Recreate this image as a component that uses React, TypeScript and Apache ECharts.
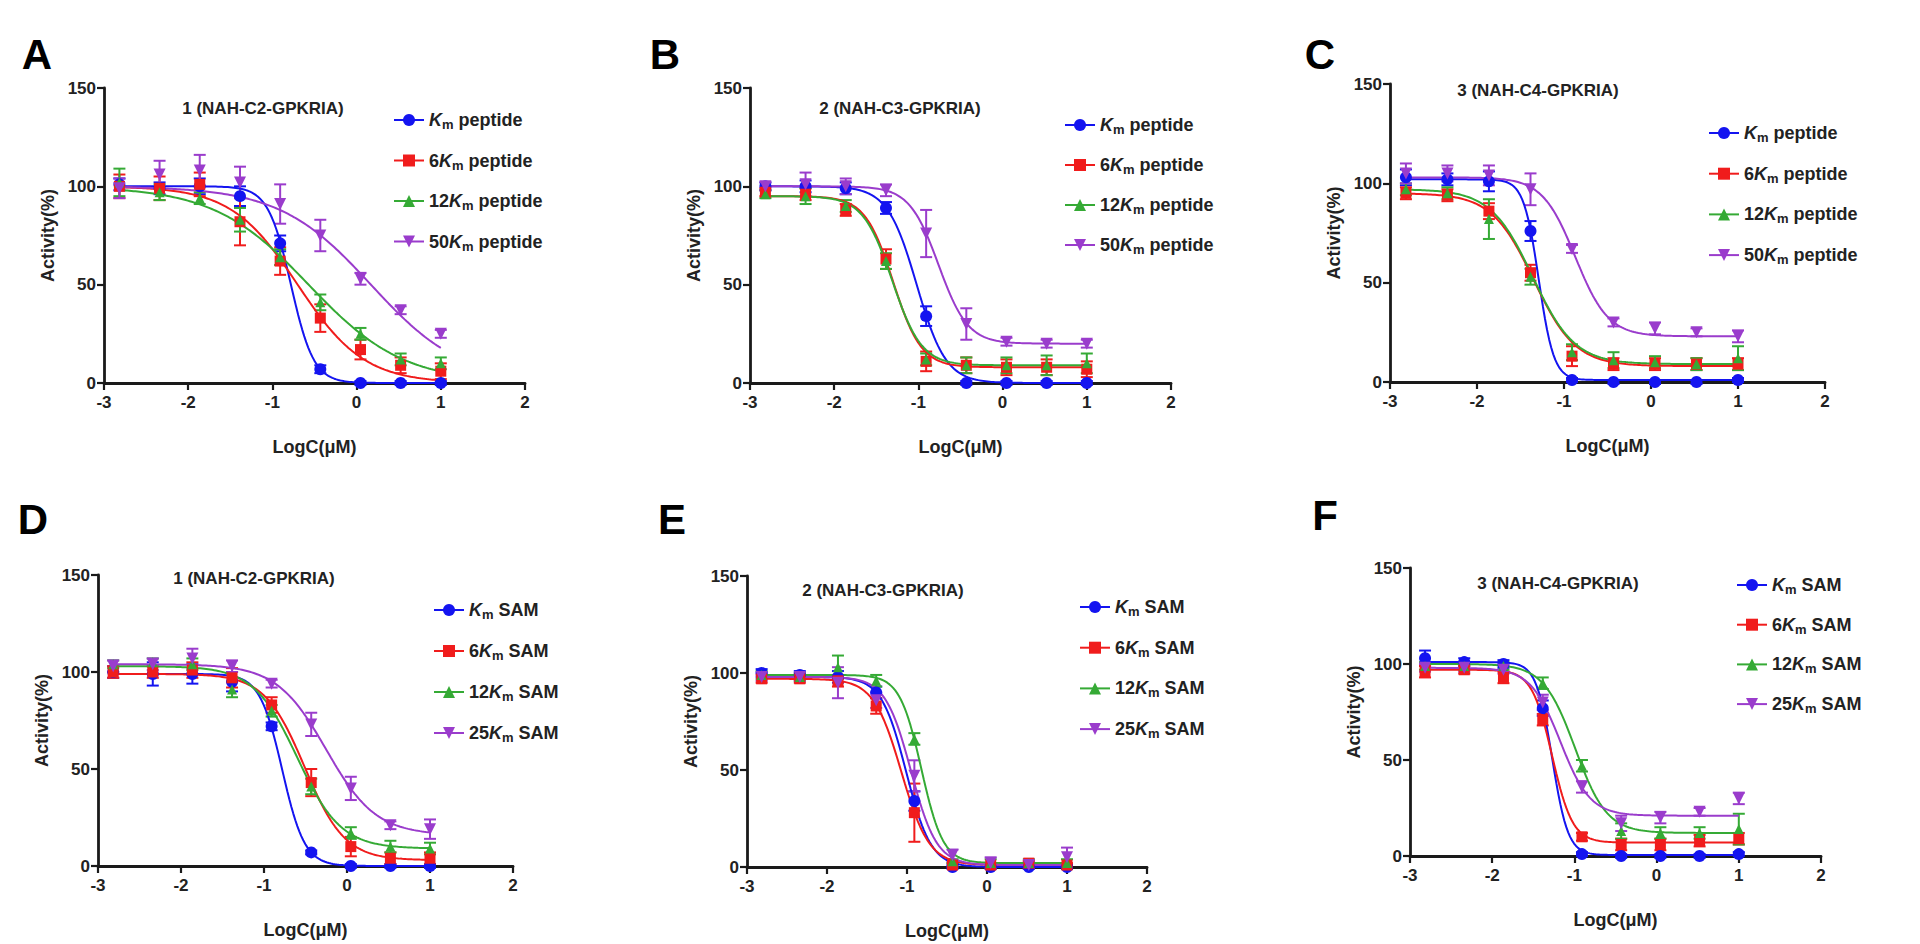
import React, { useEffect, useRef } from "react";
import * as echarts from "echarts";

// ---------- data ----------
const logConc = [-2.817, -2.34, -1.863, -1.385, -0.908, -0.431, 0.046, 0.523, 1.0];
const panelLetters = ["A", "B", "C", "D", "E", "F"];
const panelTitles = [
  "1 (NAH-C2-GPKRIA)",
  "2 (NAH-C3-GPKRIA)",
  "3 (NAH-C4-GPKRIA)",
  "1 (NAH-C2-GPKRIA)",
  "2 (NAH-C3-GPKRIA)",
  "3 (NAH-C4-GPKRIA)",
];
const peptideMultipliers = ["", "6", "12", "50"];
const samMultipliers = ["", "6", "12", "25"];
const xAxisTitle = "LogC(μM)";
const yAxisTitle = "Activity(%)";

// mean activity (%) per series: Km, 6Km, 12Km, 50Km/25Km
const panelA_mean = [
  [101, 99, 100, 95, 71, 7, 0, 0, 0],
  [100, 99, 101, 82, 62, 33, 17, 9, 6],
  [102, 97, 94, 83, 64, 41, 25, 12, 10],
  [99, 106, 108, 102, 91, 75, 53, 37, 25],
];
const panelA_sd = [
  [3, 3, 4, 5, 4, 2, 1, 1, 1],
  [6, 6, 6, 12, 7, 7, 5, 4, 4],
  [7, 4, 3, 6, 4, 4, 3, 3, 3],
  [5, 7, 8, 8, 10, 8, 3, 2, 2],
];
// fit parameters: [top, bottom, logIC50, hill]
const panelA_fit = [
  [100, 0, -0.78, 3.2],
  [100, 0, -0.7, 1.1],
  [100, 0, -0.57, 0.77],
  [100, 0, 0.17, 0.8],
];

const panelB_mean = [
  [100, 100, 99, 89, 34, 0, 0, 0, 0],
  [97, 96, 88, 63, 11, 9, 8, 8, 7],
  [96, 95, 90, 62, 12, 9, 9, 9, 10],
  [100, 101, 100, 98, 76, 30, 21, 20, 20],
];
const panelB_sd = [
  [2, 3, 3, 3, 5, 1, 1, 1, 1],
  [2, 3, 3, 5, 5, 4, 4, 4, 4],
  [2, 4, 3, 4, 3, 4, 4, 5, 5],
  [2, 6, 4, 3, 12, 8, 2, 2, 2],
];
const panelB_fit = [
  [100, 0, -1.02, 2.5],
  [95, 8, -1.3, 2.6],
  [95, 9, -1.31, 2.5],
  [100, 20, -0.76, 2.5],
];

const panelC_mean = [
  [103, 102, 101, 76, 1, 0, 0, 0, 1],
  [95, 94, 86, 55, 13, 9, 9, 9, 9],
  [97, 95, 82, 53, 15, 11, 10, 9, 12],
  [105, 105, 104, 97, 67, 30, 27, 25, 23],
];
const panelC_sd = [
  [4, 3, 5, 5, 1, 1, 1, 1, 1],
  [3, 3, 4, 4, 5, 3, 3, 3, 3],
  [3, 3, 10, 4, 4, 4, 3, 3, 6],
  [5, 4, 5, 8, 2, 2, 3, 2, 3],
];
const panelC_fit = [
  [102, 1, -1.29, 5],
  [95, 8, -1.35, 1.8],
  [97, 9, -1.36, 1.8],
  [103, 23, -0.87, 2.3],
];

const panelD_mean = [
  [100, 99, 99, 95, 72, 7, 0, 0, 0],
  [100, 100, 101, 97, 83, 43, 10, 4, 4],
  [104, 105, 104, 91, 80, 41, 17, 10, 9],
  [103, 104, 107, 103, 94, 73, 40, 21, 19],
];
const panelD_sd = [
  [3, 6, 5, 5, 2, 1, 1, 1, 1],
  [3, 3, 4, 5, 4, 7, 5, 3, 3],
  [2, 2, 3, 4, 3, 4, 3, 3, 3],
  [3, 3, 5, 3, 2, 6, 6, 2, 5],
];
const panelD_fit = [
  [99, 0, -0.78, 3.2],
  [99, 3, -0.51, 1.8],
  [103, 9, -0.6, 1.65],
  [104, 16, -0.25, 1.45],
];

const panelE_mean = [
  [100, 99, 98, 90, 34, 0, 0, 0, 0],
  [97, 97, 96, 83, 28, 1, 1, 2, 1],
  [99, 98, 103, 96, 66, 3, 2, 2, 2],
  [98, 98, 95, 86, 47, 6, 2, 1, 5],
];
const panelE_sd = [
  [2, 2, 3, 3, 5, 1, 1, 1, 1],
  [2, 2, 3, 4, 15, 1, 1, 1, 1],
  [2, 2, 6, 3, 3, 1, 2, 2, 2],
  [2, 2, 8, 4, 8, 3, 3, 2, 5],
];
const panelE_fit = [
  [98, 0, -1.01, 2.8],
  [97, 1, -1.07, 2.5],
  [99, 2, -0.82, 3.2],
  [98, 1, -0.95, 2.7],
];

const panelF_mean = [
  [103, 101, 100, 77, 1, 0, 0, 0, 1],
  [96, 97, 93, 71, 10, 6, 6, 8, 9],
  [99, 99, 99, 90, 47, 13, 12, 12, 14],
  [98, 98, 97, 80, 36, 17, 20, 23, 30],
];
const panelF_sd = [
  [4, 2, 2, 4, 1, 1, 1, 1, 1],
  [3, 2, 3, 3, 2, 3, 3, 3, 3],
  [2, 2, 2, 3, 3, 4, 3, 3, 8],
  [2, 2, 2, 4, 3, 4, 3, 2, 3],
];
const panelF_fit = [
  [101, 0.5, -1.27, 4.5],
  [97, 7, -1.27, 3.5],
  [100, 12, -0.99, 2.25],
  [98, 21, -1.17, 2.4],
];

const panels = [
  { mean: panelA_mean, sd: panelA_sd, fit: panelA_fit, mult: peptideMultipliers, unit: "peptide" },
  { mean: panelB_mean, sd: panelB_sd, fit: panelB_fit, mult: peptideMultipliers, unit: "peptide" },
  { mean: panelC_mean, sd: panelC_sd, fit: panelC_fit, mult: peptideMultipliers, unit: "peptide" },
  { mean: panelD_mean, sd: panelD_sd, fit: panelD_fit, mult: samMultipliers, unit: "SAM" },
  { mean: panelE_mean, sd: panelE_sd, fit: panelE_fit, mult: samMultipliers, unit: "SAM" },
  { mean: panelF_mean, sd: panelF_sd, fit: panelF_fit, mult: samMultipliers, unit: "SAM" },
];

// ---------- layout / style ----------
const layout = [
  { grid: { left: 104, top: 88, width: 421, height: 295 }, legend: { left: 388, top: 106, gap: 20.5 }, title: [263, 108], letter: [37, 54] },
  { grid: { left: 750, top: 88, width: 421, height: 295 }, legend: { left: 1059, top: 111, gap: 20 }, title: [900, 108], letter: [665, 54] },
  { grid: { left: 1390, top: 84, width: 435, height: 298 }, legend: { left: 1703, top: 119, gap: 20.7 }, title: [1538, 90], letter: [1320, 54] },
  { grid: { left: 98, top: 575, width: 415, height: 291 }, legend: { left: 428, top: 596, gap: 21 }, title: [254, 578], letter: [33, 519] },
  { grid: { left: 747, top: 576, width: 400, height: 291 }, legend: { left: 1074, top: 593, gap: 20.7 }, title: [883, 590], letter: [672, 519] },
  { grid: { left: 1410, top: 568, width: 411, height: 288 }, legend: { left: 1731, top: 571, gap: 19.7 }, title: [1558, 583], letter: [1325, 515] },
];
const colors = ["#1414f0", "#f01c1c", "#35aa35", "#9a3ccc"];
const symbols = ["circle", "rect", "triangle", "triangle"];
const symbolRot = [0, 0, 0, 180];
const symbolSizes = [12, 11, 10, 12];
const FONT = "'Liberation Sans', Arial, Helvetica, sans-serif";
const TEXT = "#222";

function fitValue(p: number[], x: number) {
  const [top, bottom, c, h] = p;
  return bottom + (top - bottom) / (1 + Math.pow(10, (x - c) * h));
}

function buildOption() {
  const grids: any[] = [];
  const xAxes: any[] = [];
  const yAxes: any[] = [];
  const legends: any[] = [];
  const series: any[] = [];
  const graphics: any[] = [];
  const x0 = logConc[0];
  const x1 = logConc[logConc.length - 1];

  panels.forEach((p, i) => {
    const L = layout[i];
    grids.push({ ...L.grid });
    const axisCommon = {
      type: "value",
      gridIndex: i,
      nameLocation: "middle",
      nameTextStyle: { fontSize: 18, fontWeight: "bold", color: TEXT, fontFamily: FONT },
      axisLine: { show: true, onZero: false, lineStyle: { color: "#1a1a1a", width: 2.8 } },
      axisTick: { show: true, inside: false, length: 7, lineStyle: { color: "#1a1a1a", width: 2.2 } },
      splitLine: { show: false },
    };
    const labelStyle = { fontSize: 17, fontWeight: "bold", color: TEXT, fontFamily: FONT };
    xAxes.push({
      ...axisCommon,
      min: -3,
      max: 2,
      interval: 1,
      name: xAxisTitle,
      nameGap: 55,
      axisLabel: { ...labelStyle, margin: 11 },
    });
    yAxes.push({
      ...axisCommon,
      min: 0,
      max: 150,
      interval: 50,
      name: yAxisTitle,
      nameGap: 47,
      axisLabel: { ...labelStyle, margin: 8 },
    });

    const names: string[] = [];
    p.mean.forEach((vals, k) => {
      const name = `${panelLetters[i]}|${p.mult[k]}|${p.unit}`;
      names.push(name);
      const color = colors[k];
      // error bars
      series.push({
        type: "custom",
        xAxisIndex: i,
        yAxisIndex: i,
        silent: true,
        clip: false,
        z: 2,
        data: logConc.map((x, j) => [x, vals[j], p.sd[k][j]]),
        encode: { x: 0, y: 1 },
        renderItem: (params: any, api: any) => {
          const x = api.value(0);
          const y = api.value(1);
          const e = api.value(2);
          const hi = api.coord([x, y + e]);
          const lo = api.coord([x, y - e]);
          const cap = 6;
          const st = { stroke: color, lineWidth: 2 };
          return {
            type: "group",
            children: [
              { type: "line", shape: { x1: hi[0], y1: hi[1], x2: lo[0], y2: lo[1] }, style: st },
              { type: "line", shape: { x1: hi[0] - cap, y1: hi[1], x2: hi[0] + cap, y2: hi[1] }, style: st },
              { type: "line", shape: { x1: lo[0] - cap, y1: lo[1], x2: lo[0] + cap, y2: lo[1] }, style: st },
            ],
          };
        },
      });
      // fitted curve (carries the legend entry)
      const curve: number[][] = [];
      const N = 160;
      for (let s = 0; s <= N; s++) {
        const x = x0 + ((x1 - x0) * s) / N;
        curve.push([x, fitValue(p.fit[k], x)]);
      }
      series.push({
        type: "line",
        name,
        xAxisIndex: i,
        yAxisIndex: i,
        data: curve,
        showSymbol: false,
        symbol: symbols[k],
        symbolRotate: symbolRot[k],
        symbolSize: symbolSizes[k],
        lineStyle: { color, width: 2 },
        itemStyle: { color },
        silent: true,
        z: 3,
      });
      // data points
      series.push({
        type: "scatter",
        name: name + "|pts",
        xAxisIndex: i,
        yAxisIndex: i,
        data: logConc.map((x, j) => [x, vals[j]]),
        symbol: symbols[k],
        symbolRotate: symbolRot[k],
        symbolSize: symbolSizes[k],
        itemStyle: { color, opacity: 1 },
        silent: true,
        z: 4,
      });
    });

    legends.push({
      orient: "vertical",
      left: L.legend.left,
      top: L.legend.top,
      itemGap: L.legend.gap,
      itemWidth: 30,
      itemHeight: 15,
      selectedMode: false,
      data: names,
      lineStyle: { width: 2 },
      formatter: (n: string) => {
        const parts = n.split("|");
        const m = parts[1];
        return (m ? `{n|${m}}` : "") + `{k|K}{s|m}{n| ${parts[2]}}`;
      },
      textStyle: {
        fontSize: 18,
        fontWeight: "bold",
        color: TEXT,
        fontFamily: FONT,
        rich: {
          n: { fontSize: 18, fontWeight: "bold", color: TEXT, fontFamily: FONT, lineHeight: 22 },
          k: { fontSize: 18, fontWeight: "bold", fontStyle: "italic", color: TEXT, fontFamily: FONT, lineHeight: 22 },
          s: { fontSize: 13, fontWeight: "bold", color: TEXT, fontFamily: FONT, lineHeight: 12, verticalAlign: "bottom" },
        },
      },
    });

    graphics.push({
      type: "text",
      x: L.title[0],
      y: L.title[1],
      style: {
        text: panelTitles[i],
        align: "center",
        verticalAlign: "middle",
        fontSize: 17,
        fontWeight: "bold",
        fill: TEXT,
        fontFamily: FONT,
      },
    });
    graphics.push({
      type: "text",
      x: L.letter[0],
      y: L.letter[1],
      style: {
        text: panelLetters[i],
        align: "center",
        verticalAlign: "middle",
        fontSize: 42,
        fontWeight: "bold",
        fill: "#000",
        fontFamily: FONT,
      },
    });
  });

  return {
    animation: false,
    backgroundColor: "#ffffff",
    grid: grids,
    xAxis: xAxes,
    yAxis: yAxes,
    legend: legends,
    series,
    graphic: graphics,
  };
}

export default function App() {
  const ref = useRef<HTMLDivElement>(null);
  useEffect(() => {
    if (!ref.current) return;
    const chart = echarts.init(ref.current, undefined, { renderer: "svg" });
    chart.setOption(buildOption() as any);
    return () => chart.dispose();
  }, []);
  return (
    <div
      ref={ref}
      style={{ position: "fixed", left: 0, top: 0, width: 1920, height: 944, background: "#fff" }}
    />
  );
}
